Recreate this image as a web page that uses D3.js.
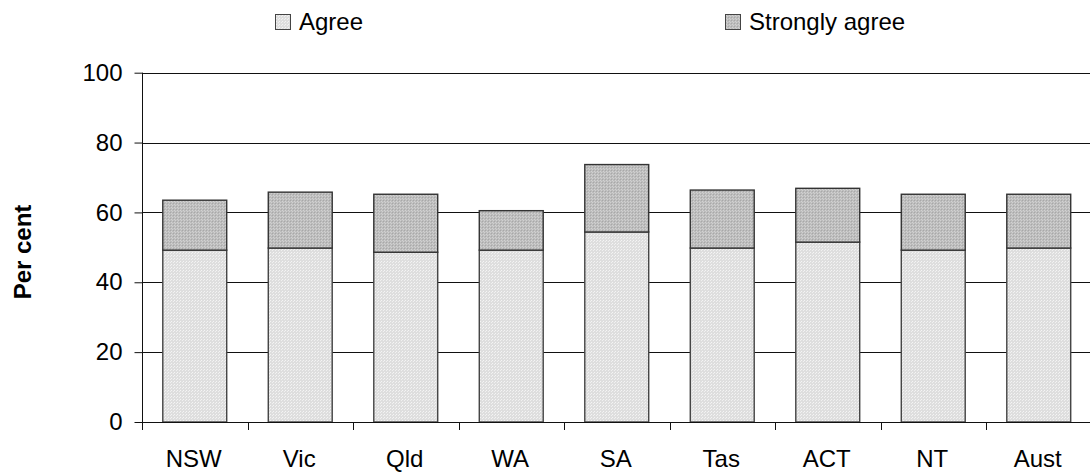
<!DOCTYPE html>
<html>
<head>
<meta charset="utf-8">
<script src="https://cdn.jsdelivr.net/npm/d3@7"></script>
<style>
  html, body { margin: 0; padding: 0; background: #fff; }
  svg { display: block; font-family: "Liberation Sans", Arial, sans-serif; }
</style>
</head>
<body>
<svg id="chart" width="1090" height="476"></svg>
<script>
const categories = ["NSW", "Vic", "Qld", "WA", "SA", "Tas", "ACT", "NT", "Aust"];
const agree = [49.2, 49.8, 48.6, 49.2, 54.4, 49.8, 51.5, 49.2, 49.8];
const stronglyAgree = [14.3, 16.0, 16.6, 11.3, 19.3, 16.6, 15.4, 16.0, 15.4];
const seriesNames = ["Agree", "Strongly agree"];
const yTicks = [0, 20, 40, 60, 80, 100];

(function () {
const svg = d3.select("#chart");

// patterns
const defs = svg.append("defs");
const pA = defs.append("pattern").attr("id", "patAgree").attr("patternUnits", "userSpaceOnUse")
  .attr("width", 3).attr("height", 3);
pA.append("rect").attr("width", 3).attr("height", 3).attr("fill", "#dedede");
pA.append("rect").attr("x", 0).attr("y", 0).attr("width", 1).attr("height", 1).attr("fill", "#f4f4f4");
pA.append("rect").attr("x", 2).attr("y", 1).attr("width", 1).attr("height", 1).attr("fill", "#f0f0f0");
const pS = defs.append("pattern").attr("id", "patStrong").attr("patternUnits", "userSpaceOnUse")
  .attr("width", 3).attr("height", 3);
pS.append("rect").attr("width", 3).attr("height", 3).attr("fill", "#bcbcbc");
pS.append("rect").attr("x", 0).attr("y", 0).attr("width", 1).attr("height", 1).attr("fill", "#d2d2d2");
pS.append("rect").attr("x", 1).attr("y", 1).attr("width", 1).attr("height", 1).attr("fill", "#d0d0d0");
pS.append("rect").attr("x", 2).attr("y", 2).attr("width", 1).attr("height", 1).attr("fill", "#a8a8a8");

const pLeft = 142, pRight = 1091.5, pTop = 72.7, pBottom = 422;

const x = d3.scaleBand().domain(categories).range([pLeft, pRight]).paddingInner(0.394).paddingOuter(0.197);
const xb = d3.scaleBand().domain(categories).range([pLeft, pRight]).padding(0);
const y = d3.scaleLinear().domain([0, 100]).range([pBottom, pTop]);

// gridlines
svg.append("g").selectAll("line").data(yTicks.filter(d => d > 0)).join("line")
  .attr("x1", pLeft).attr("x2", 1090)
  .attr("y1", d => Math.round(y(d)) + 0.5).attr("y2", d => Math.round(y(d)) + 0.5)
  .attr("stroke", "#111").attr("stroke-width", 1);

// bars
const data = categories.map((c, i) => ({ c, a: agree[i], s: stronglyAgree[i] }));
const bars = svg.append("g");
bars.selectAll("rect.agree").data(data).join("rect").attr("class", "agree")
  .attr("x", d => x(d.c)).attr("width", x.bandwidth())
  .attr("y", d => y(d.a)).attr("height", d => y(0) - y(d.a))
  .attr("fill", "url(#patAgree)").attr("stroke", "#444").attr("stroke-width", 1.4);
bars.selectAll("rect.strong").data(data).join("rect").attr("class", "strong")
  .attr("x", d => x(d.c)).attr("width", x.bandwidth())
  .attr("y", d => y(d.a + d.s)).attr("height", d => y(d.a) - y(d.a + d.s))
  .attr("fill", "url(#patStrong)").attr("stroke", "#333").attr("stroke-width", 1.4);

// y axis
const yAxis = d3.axisLeft(y).tickValues(yTicks).tickSize(8).tickPadding(12).tickFormat(d3.format("d"));
const gy = svg.append("g").attr("transform", `translate(${pLeft + 0.5},0)`).call(yAxis);
gy.select(".domain").remove();
gy.append("line").attr("x1", 0).attr("x2", 0).attr("y1", pTop).attr("y2", pBottom + 8).attr("stroke", "#111");
gy.selectAll(".tick line").attr("stroke", "#111");
gy.selectAll(".tick text").attr("font-size", 24).attr("fill", "#000")
  .attr("font-family", "Liberation Sans, Arial, sans-serif");

// x axis baseline + ticks at category boundaries
const gx = svg.append("g");
gx.append("line").attr("x1", pLeft).attr("x2", 1090).attr("y1", pBottom + 0.5).attr("y2", pBottom + 0.5).attr("stroke", "#111");
gx.selectAll("line.tk").data(categories.slice(1)).join("line").attr("class", "tk")
  .attr("x1", d => Math.round(xb(d)) + 0.5).attr("x2", d => Math.round(xb(d)) + 0.5)
  .attr("y1", pBottom).attr("y2", pBottom + 8).attr("stroke", "#111");
gx.selectAll("text").data(categories).join("text")
  .attr("x", d => xb(d) + xb.bandwidth() / 2 - 1).attr("y", 467)
  .attr("text-anchor", "middle").attr("font-size", 24).attr("fill", "#000")
  .text(d => d);

// y title
svg.append("text").attr("transform", "translate(31,252) rotate(-90)")
  .attr("text-anchor", "middle").attr("font-size", 24).attr("font-weight", "bold").text("Per cent");

// legend
const legendX = [275, 725];
const fills = ["url(#patAgree)", "url(#patStrong)"];
const lg = svg.append("g");
lg.selectAll("rect").data(seriesNames).join("rect")
  .attr("x", (d, i) => legendX[i] + 0.5).attr("y", 14.5).attr("width", 15).attr("height", 15)
  .attr("fill", (d, i) => fills[i]).attr("stroke", "#444").attr("stroke-width", 1);
lg.selectAll("text").data(seriesNames).join("text")
  .attr("x", (d, i) => legendX[i] + 24).attr("y", 30)
  .attr("font-size", 24).attr("fill", "#000").text(d => d);
})();
</script>
</body>
</html>
